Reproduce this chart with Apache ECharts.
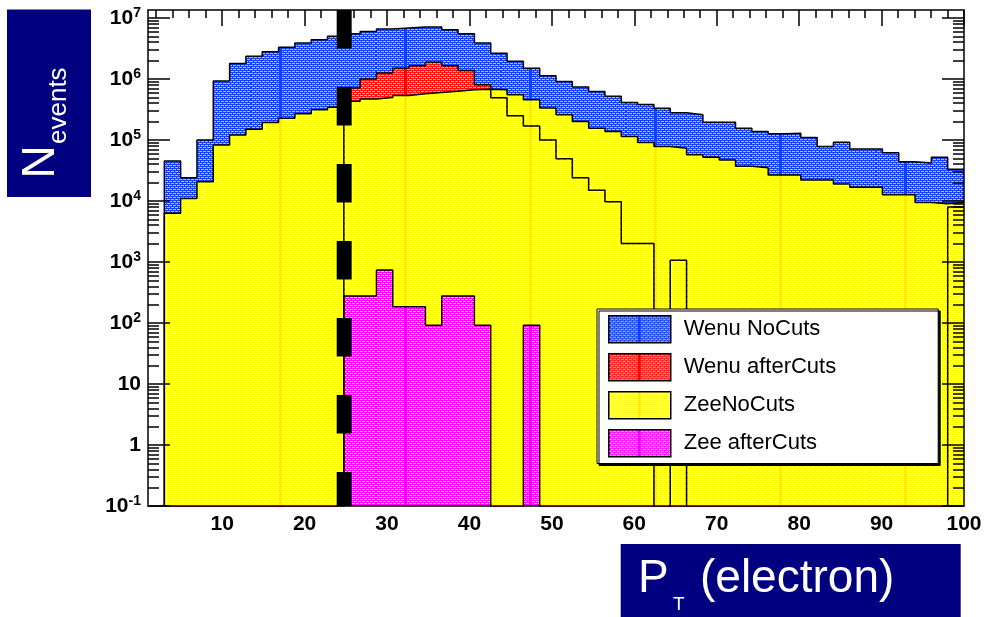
<!DOCTYPE html>
<html>
<head>
<meta charset="utf-8">
<title>Electron pT spectra</title>
<script src="https://cdn.jsdelivr.net/npm/echarts@6/dist/echarts.min.js"></script>
<style>
  html, body { margin: 0; padding: 0; background: #fff; }
  #chart { width: 987px; height: 617px; }
</style>
</head>
<body>
<div id="chart"></div>
<script>
// ---- Histogram definition: 50 equal bins over the pT range ----
const ptRange = [1, 100];
const nBins = 50;
const yRange = [0.1, 1.35e7];
const ptCut = 24.8;

// ---- Tick values ----
const xTickValues = [10, 20, 30, 40, 50, 60, 70, 80, 90, 100];
const yDecades = [0.1, 1, 10, 100, 1e3, 1e4, 1e5, 1e6, 1e7];

// ---- Bin contents (events per bin) ----
const wenuNoCuts = [
  0, 4.5e4, 2.4e4, 1.0e5, 9.3e5, 1.8e6, 2.35e6, 2.8e6, 3.3e6, 3.9e6,
  4.4e6, 5.0e6, 5.5e6, 6.0e6, 6.6e6, 6.85e6, 7.1e6, 7.1e6, 6.4e6, 5.5e6,
  3.9e6, 2.65e6, 1.95e6, 1.5e6, 1.13e6, 9.1e5, 7.4e5, 6.2e5, 5.2e5, 4.1e5,
  3.8e5, 3.3e5, 2.8e5, 2.6e5, 1.95e5, 1.95e5, 1.55e5, 1.37e5, 1.26e5, 1.29e5,
  1.1e5, 7.8e4, 9.2e4, 7.1e4, 7.1e4, 6.2e4, 4.4e4, 4.2e4, 5.2e4, 3.3e4
];
const wenuAfterCuts = [
  0, 0, 0, 0, 0, 0, 0, 0, 0, 0,
  0, 0, 7.1e5, 1.0e6, 1.25e6, 1.5e6, 1.65e6, 1.87e6, 1.65e6, 1.38e6,
  8.0e5, 4.9e5, 2.5e5, 1.7e5, 1.0e5, 4.9e4, 2.4e4, 1.5e4, 9.7e3, 2.0e3,
  2.0e3, 0, 1.07e3, 0, 0, 0, 0, 0, 0, 0,
  0, 0, 0, 0, 0, 0, 0, 0, 0, 8.0e3
];
const zeeNoCuts = [
  0, 6.3e3, 1.1e4, 2.07e4, 8.3e4, 1.21e5, 1.5e5, 1.93e5, 2.28e5, 2.68e5,
  3.12e5, 3.45e5, 4.3e5, 4.68e5, 4.97e5, 5.36e5, 5.7e5, 6.0e5, 6.3e5, 6.65e5,
  6.8e5, 6.65e5, 5.5e5, 4.56e5, 3.33e5, 2.58e5, 2.0e5, 1.56e5, 1.37e5, 1.14e5,
  9.1e4, 7.8e4, 7.3e4, 5.7e4, 5.2e4, 4.7e4, 3.7e4, 3.5e4, 2.67e4, 2.67e4,
  2.2e4, 2.2e4, 1.9e4, 1.68e4, 1.68e4, 1.26e4, 1.26e4, 9.4e3, 9.0e3, 9.4e3
];
const zeeAfterCuts = [
  0, 0, 0, 0, 0, 0, 0, 0, 0, 0,
  0, 0, 276, 276, 736, 184, 184, 92, 276, 276,
  92, 0, 0, 92, 0, 0, 0, 0, 0, 0,
  0, 0, 0, 0, 0, 0, 0, 0, 0, 0,
  0, 0, 0, 0, 0, 0, 0, 0, 0, 0
];

const fontFamily = '"Liberation Sans", Arial, Helvetica, sans-serif';
const navy = '#000080';

// Minor ticks: every 2 GeV on x, 2..9 per decade on y
const xMinorTicks = [];
for (let v = 2; v < ptRange[1]; v += 2) if (v % 10 !== 0) xMinorTicks.push(v);
const yMinorTicks = [];
yDecades.slice(0, -1).forEach(d => { for (let m = 2; m <= 9; m++) yMinorTicks.push(d * m); });

// Dotted fill pattern with a periodic solid column, like the ROOT fill style
function fillPattern(base, dot, column) {
  const c = document.createElement('canvas');
  c.width = 125; c.height = 4;
  const g = c.getContext('2d');
  g.fillStyle = base; g.fillRect(0, 0, 125, 4);
  g.fillStyle = dot;
  for (let x = 0; x < 125; x += 4) { g.fillRect(x, 1, 3, 1); g.fillRect(x + 2, 3, 3, 1); }
  g.fillStyle = column; g.fillRect(29, 0, 3, 4);
  return { image: c, repeat: 'repeat' };
}
const blueFill = fillPattern('rgb(20,65,235)', 'rgb(165,190,255)', 'rgb(20,60,255)');
const redFill = fillPattern('rgb(255,20,20)', 'rgb(255,160,160)', 'rgb(255,0,0)');
const yellowFill = fillPattern('rgb(255,255,0)', 'rgb(255,255,205)', 'rgb(255,236,0)');
const magentaFill = fillPattern('rgb(255,0,255)', 'rgb(255,180,255)', 'rgb(240,0,240)');

// Step outline points at bin edges; empty bins drop below the axis floor
const binWidth = (ptRange[1] - ptRange[0]) / nBins;
const EMPTY = 1e-3;
function histPoints(counts) {
  const pts = counts.map((c, i) => [ptRange[0] + i * binWidth, c > 0 ? c : EMPTY]);
  pts.push([ptRange[1], pts[pts.length - 1][1]]);
  return pts;
}
function histSeries(name, counts, fill) {
  return {
    name, type: 'line', step: 'end', data: histPoints(counts),
    symbol: 'none', showSymbol: false, clip: true, silent: true,
    lineStyle: { color: '#000', width: 1.5 },
    itemStyle: { color: '#000' },
    areaStyle: { color: fill, opacity: 1, origin: 'start' },
    emphasis: { disabled: true }
  };
}

const axisLineStyle = { color: '#000', width: 1.5 };
const xBase = { type: 'value', min: ptRange[0], max: ptRange[1], gridIndex: 0, splitLine: { show: false }, z: 10 };
const yBase = { type: 'log', logBase: 10, min: yRange[0], max: yRange[1], gridIndex: 0, splitLine: { show: false }, z: 10 };

function decadeLabel(v) {
  const e = Math.round(Math.log10(v));
  if (e === 0) return '{b|1}';
  if (e === 1) return '{b|10}';
  return '{b|10}{e|' + e + '}';
}

const chart = echarts.init(document.getElementById('chart'), null, { renderer: 'canvas' });
chart.setOption({
  animation: false,
  backgroundColor: '#fff',
  grid: { left: 148, top: 10, width: 816, height: 496, show: false, containLabel: false, outerBoundsMode: 'none' },
  xAxis: [
    Object.assign({}, xBase, {
      position: 'bottom',
      axisLine: { show: true, onZero: false, lineStyle: axisLineStyle },
      axisTick: { show: false },
      axisLabel: { customValues: xTickValues, color: '#000', fontSize: 21, fontWeight: 'bold', fontFamily, margin: 8 }
    }),
    Object.assign({}, xBase, {
      position: 'top',
      axisLine: { show: true, onZero: false, lineStyle: axisLineStyle },
      axisTick: { show: true, inside: true, length: 16, customValues: xTickValues, lineStyle: axisLineStyle },
      axisLabel: { show: false }
    }),
    Object.assign({}, xBase, {
      position: 'top',
      axisLine: { show: false, onZero: false },
      axisTick: { show: true, inside: true, length: 8, customValues: xMinorTicks, lineStyle: axisLineStyle },
      axisLabel: { show: false }
    })
  ],
  yAxis: [
    Object.assign({}, yBase, {
      position: 'left',
      axisLine: { show: true, onZero: false, lineStyle: axisLineStyle },
      axisTick: { show: true, inside: true, length: 22, customValues: yDecades, lineStyle: axisLineStyle },
      axisLabel: {
        customValues: yDecades, margin: 7, formatter: decadeLabel, color: '#000',
        rich: {
          b: { fontSize: 21, fontWeight: 'bold', fontFamily, color: '#000' },
          e: { fontSize: 14, fontWeight: 'bold', fontFamily, color: '#000', padding: [0, 0, 10, 0] }
        }
      }
    }),
    Object.assign({}, yBase, {
      position: 'left',
      axisLine: { show: false, onZero: false },
      axisTick: { show: true, inside: true, length: 11, customValues: yMinorTicks, lineStyle: axisLineStyle },
      axisLabel: { show: false }
    }),
    Object.assign({}, yBase, {
      position: 'right',
      axisLine: { show: true, onZero: false, lineStyle: axisLineStyle },
      axisTick: { show: true, inside: true, length: 22, customValues: yDecades, lineStyle: axisLineStyle },
      axisLabel: { show: false }
    }),
    Object.assign({}, yBase, {
      position: 'right',
      axisLine: { show: false, onZero: false },
      axisTick: { show: true, inside: true, length: 11, customValues: yMinorTicks, lineStyle: axisLineStyle },
      axisLabel: { show: false }
    })
  ],
  legend: {
    left: 597, top: 309, orient: 'vertical',
    itemWidth: 62, itemHeight: 27, itemGap: 9.5,
    padding: [6, 102, 6, 11],
    backgroundColor: '#fff', borderColor: '#000', borderWidth: 1,
    shadowColor: '#000', shadowOffsetX: 2, shadowOffsetY: 2, shadowBlur: 0,
    selectedMode: false,
    textStyle: { fontSize: 22, color: '#000', fontFamily, padding: [0, 0, 0, 8] },
    data: [
      { name: 'Wenu NoCuts', icon: 'rect', itemStyle: { color: blueFill, borderColor: '#000', borderWidth: 1.5 } },
      { name: 'Wenu afterCuts', icon: 'rect', itemStyle: { color: redFill, borderColor: '#000', borderWidth: 1.5 } },
      { name: 'ZeeNoCuts', icon: 'rect', itemStyle: { color: yellowFill, borderColor: '#000', borderWidth: 1.5 } },
      { name: 'Zee afterCuts', icon: 'rect', itemStyle: { color: magentaFill, borderColor: '#000', borderWidth: 1.5 } }
    ]
  },
  series: [
    histSeries('Wenu NoCuts', wenuNoCuts, blueFill),
    histSeries('Wenu afterCuts', wenuAfterCuts, redFill),
    histSeries('ZeeNoCuts', zeeNoCuts, yellowFill),
    // outline of the W after-cuts histogram, visible through the Z fill
    {
      name: 'Wenu afterCuts', type: 'line', step: 'end', data: histPoints(wenuAfterCuts),
      symbol: 'none', showSymbol: false, clip: true, silent: true,
      lineStyle: { color: '#222', width: 1.5, type: [1.5, 4] },
      itemStyle: { color: '#222' }, emphasis: { disabled: true }
    },
    histSeries('Zee afterCuts', zeeAfterCuts, magentaFill),
    // pT threshold
    {
      name: 'pT cut', type: 'line', data: [[ptCut, yRange[1]], [ptCut, yRange[0]]],
      symbol: 'none', showSymbol: false, clip: true, silent: true, z: 5,
      lineStyle: { color: '#000', width: 15, type: [38.5, 38.5], cap: 'butt' },
      emphasis: { disabled: true }
    }
  ],
  graphic: [
    { type: 'rect', x: 7, y: 9.5, shape: { width: 84, height: 187.5 }, style: { fill: navy } },
    { type: 'text', x: 41.5, y: 178.5, rotation: Math.PI / 2,
      style: { text: 'N', fill: '#fff', font: '46px ' + fontFamily, align: 'left', verticalAlign: 'middle' } },
    { type: 'text', x: 59, y: 144, rotation: Math.PI / 2,
      style: { text: 'events', fill: '#fff', font: '26px ' + fontFamily, align: 'left', verticalAlign: 'middle' } },
    { type: 'rect', x: 620.7, y: 544, shape: { width: 340, height: 73 }, style: { fill: navy } },
    { type: 'text', x: 638, y: 579,
      style: { text: 'P', fill: '#fff', font: '46px ' + fontFamily, align: 'left', verticalAlign: 'middle' } },
    { type: 'text', x: 673, y: 605,
      style: { text: 'T', fill: '#fff', font: '19px ' + fontFamily, align: 'left', verticalAlign: 'middle' } },
    { type: 'text', x: 700, y: 579,
      style: { text: '(electron)', fill: '#fff', font: '46px ' + fontFamily, align: 'left', verticalAlign: 'middle' } }
  ]
});
</script>
</body>
</html>
